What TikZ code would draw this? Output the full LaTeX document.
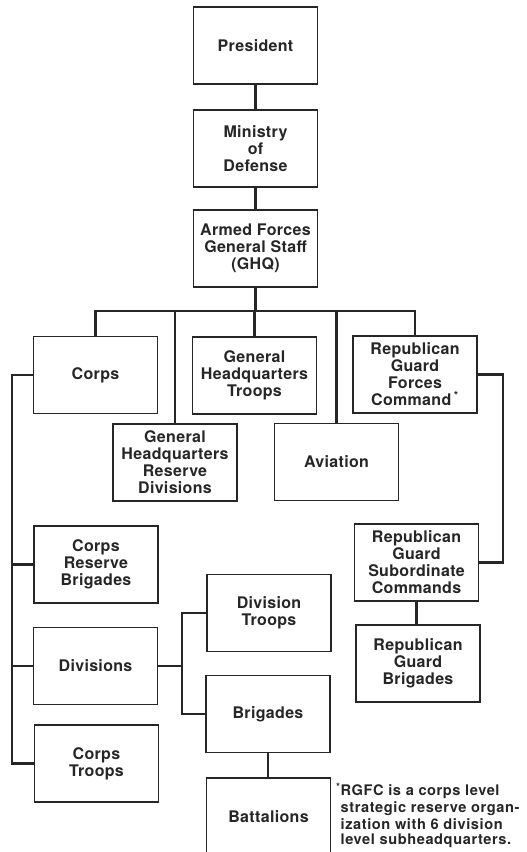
\documentclass[tikz,border=0pt]{standalone}
\usepackage{fontspec}
\setmainfont{TeX Gyre Heros}
\newfontfamily\boxfont[LetterSpace = 2]{TeX Gyre Heros}
\newfontfamily\notefont[LetterSpace = 4]{TeX Gyre Heros}
\usetikzlibrary{positioning}

\tikzset{
	unit/.style = {draw = black!85, line width = 1.3pt, minimum width = 124pt, minimum height = 77pt, inner sep = 0pt, align = center, text = black!85, font = \boxfont\fontsize{16}{17}\selectfont\bfseries},
	link/.style = {draw = black!85, line width = 2.4pt},
	note/.style = {align = left, inner sep = 0pt, text = black!85, font = \notefont\fontsize{14.6}{14.5}\selectfont\bfseries}
}

\begin{document}
\begin{tikzpicture}[x = 1pt, y = -1pt]

	\clip (0, 0) rectangle (527, 852);
	\fill [white] (0, 0) rectangle (527, 852);

	% Top of the chain

	\node [unit] (pres) at (255.5, 45.5) {President};
	\node [unit] (mod) at (255.5, 148.5) {Ministry\\of\\Defense};
	\node [unit] (gs) at (255.5, 248.5) {Armed Forces\\General Staff\\(GHQ)};

	% Under the general staff

	\node [unit] (corps) at (95.5, 375) {Corps};
	\node [unit] (ghqt) at (254.5, 375.5) {General\\Headquarters\\Troops};
	\node [unit] (rgfc) at (415, 374.5) {Republican\\Guard\\Forces\\Command\,\textsuperscript{*}};
	\node [unit] (ghqr) at (175, 462.5) {General\\Headquarters\\Reserve\\Divisions};
	\node [unit] (avn) at (336.5, 462) {Aviation};

	% Corps level

	\node [unit] (crb) at (96, 564.5) {Corps\\Reserve\\Brigades};
	\node [unit] (div) at (95.5, 666) {Divisions};
	\node [unit] (ct) at (96.5, 763.5) {Corps\\Troops};

	% Division level

	\node [unit] (divt) at (269, 613) {Division\\Troops};
	\node [unit] (brig) at (268, 714) {Brigades};
	\node [unit] (bn) at (268.5, 816.5) {Battalions};

	% Republican Guard

	\node [unit] (rgsc) at (416.5, 562.5) {Republican\\Guard\\Subordinate\\Commands};
	\node [unit] (rgb) at (418, 663.5) {Republican\\Guard\\Brigades};

	% Footnote

	\node [note, anchor = north west] (fn) at (336, 783) {\textsuperscript{*}RGFC is a corps level\\\phantom{\textsuperscript{*}}strategic reserve organ-\\\phantom{\textsuperscript{*}}ization with 6 division\\\phantom{\textsuperscript{*}}level subheadquarters.};

	% Connectors

	\coordinate (bus) at (0, 311);
	\coordinate (lspine) at (12, 0);
	\coordinate (rspine) at (503, 0);
	\coordinate (dspine) at (182, 0);

	\draw [link] (pres) -- (mod);
	\draw [link] (mod) -- (gs);
	\draw [link] (gs.south) -- (gs.south |- bus);
	\draw [link] (corps.north) |- (rgfc.north |- bus) -- (rgfc.north);
	\foreach \n in {ghqt, ghqr, avn}
	{
		\draw [link] (\n.north) -- (\n.north |- bus);
	}

	\draw [link] (corps.west) -| (lspine |- ct.west) -- (ct.west);
	\foreach \n in {crb, div}
		\draw [link] (\n.west) -- (lspine |- \n.west);

	\draw [link] (div.east) -- (dspine |- div.east);
	\draw [link] (divt.west) -| (dspine |- brig.west) -- (brig.west);
	\draw [link] (brig.south) -- (brig.south |- bn.north);

	\draw [link] (rgfc.east) -| (rspine |- rgsc.east) -- (rgsc.east);
	\draw [link] (rgsc.south) -- (rgsc.south |- rgb.north);

\end{tikzpicture}
\end{document}
